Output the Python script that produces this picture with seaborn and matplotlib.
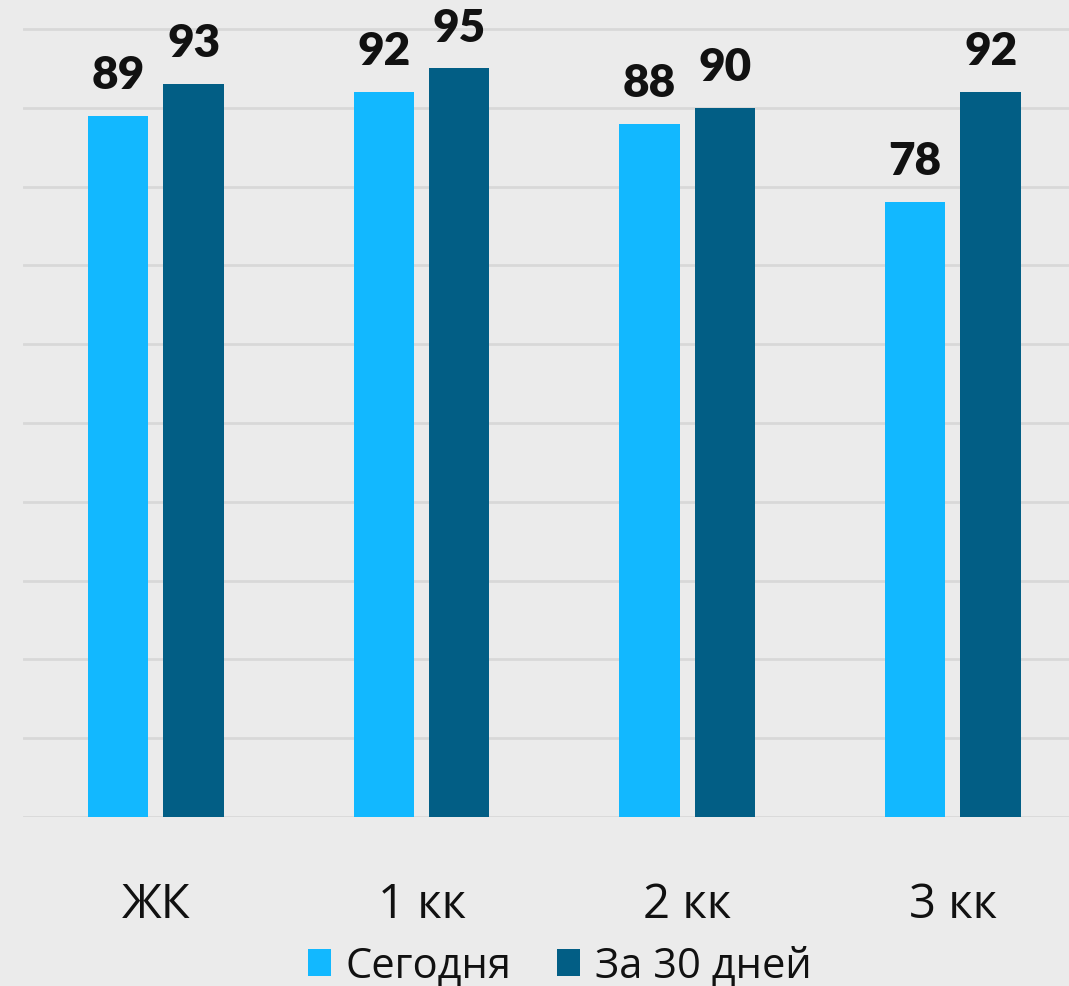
import matplotlib
matplotlib.use("Agg")
import matplotlib.pyplot as plt
import seaborn as sns
import pandas as pd

categories = ["ЖК", "1 кк", "2 кк", "3 кк"]
today = [89, 92, 88, 78]
month = [93, 95, 90, 92]
series_names = ["Сегодня", "За 30 дней"]
colors = ["#12B8FF", "#025E85"]

df = pd.DataFrame({
    "cat": categories * 2,
    "val": today + month,
    "series": [series_names[0]] * 4 + [series_names[1]] * 4,
})

sns.set_theme(style="white")
plt.rcParams["font.family"] = ["Open Sans", "DejaVu Sans"]

fig = plt.figure(figsize=(10.69, 9.87), dpi=100, facecolor="#EBEBEB")
ax = fig.add_axes([23 / 1069, 169 / 987, 1 - 23 / 1069, 818 / 987])
ax.set_facecolor("#EBEBEB")

sns.barplot(data=df, x="cat", y="val", hue="series", palette=colors,
            width=0.568, gap=0.2, ax=ax, saturation=1, legend=True,
            linewidth=0)

ax.set_ylim(0, 103.8)
ax.set_xlim(-0.5, -0.5 + 1046 / 265.7)
ax.set_yticks(range(0, 101, 10))
ax.yaxis.grid(True, color="#D8D8D8", linewidth=2)
ax.set_axisbelow(True)
ax.tick_params(axis="y", left=False, labelleft=False)
ax.tick_params(axis="x", bottom=False, labelsize=34, pad=40, colors="#111111")
for s in ax.spines.values():
    s.set_visible(False)
ax.set_xlabel("")
ax.set_ylabel("")

for cont in ax.containers:
    ax.bar_label(cont, padding=15, fontsize=33, fontweight="heavy",
                 family=["Lato", "DejaVu Sans"], color="#111111")

ax.legend(loc="center", bbox_to_anchor=(560 / 1069, 20 / 987),
          bbox_transform=fig.transFigure, ncol=2, frameon=False,
          fontsize=30, handlelength=0.55, handleheight=0.6,
          handletextpad=0.35, columnspacing=1.1, labelcolor="#111111")

fig.savefig("out.png", dpi=100, facecolor=fig.get_facecolor())
